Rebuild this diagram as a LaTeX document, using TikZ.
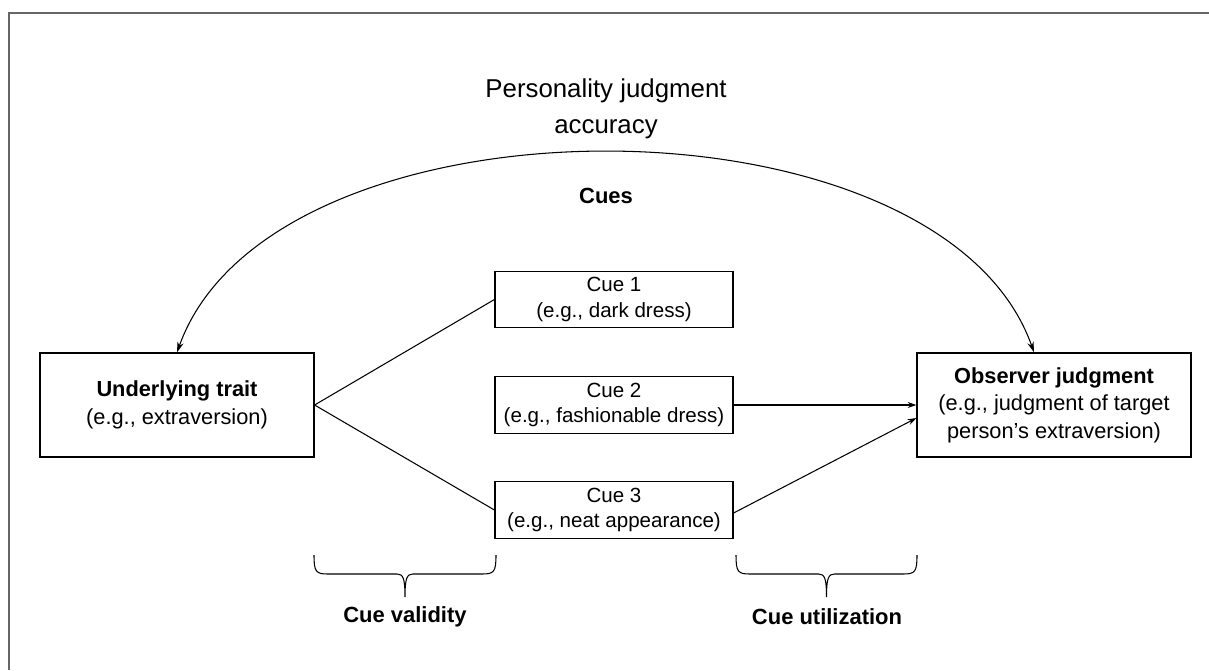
\documentclass[tikz,border=0pt]{standalone}
\usepackage{fontspec}
\setmainfont{Liberation Sans}
\usetikzlibrary{arrows.meta,calc}
\def\cuebrace(#1:#2:#3){\draw[line width=0.6pt] (#1, #3) .. controls (#1, {#3+17}) and ({#1+2}, {#3+19}) .. ({#1+14}, {#3+19}) -- ({(#1+#2)/2-8}, {#3+19}) .. controls ({(#1+#2)/2-2}, {#3+19}) and ({(#1+#2)/2}, {#3+23}) .. ({(#1+#2)/2}, {#3+42}) .. controls ({(#1+#2)/2}, {#3+23}) and ({(#1+#2)/2+2}, {#3+19}) .. ({(#1+#2)/2+8}, {#3+19}) -- ({#2-14}, {#3+19}) .. controls ({#2-2}, {#3+19}) and (#2, {#3+17}) .. (#2, #3);}

\begin{document}
\begin{tikzpicture}[x=0.02cm, y=-0.02cm,
		box/.style={draw, line width=0.7pt, align=center, inner sep=0pt, font=\fontsize{12.4}{15.6}\selectfont},
		endbox/.style={box, minimum width=5.48cm, minimum height=2.08cm},
		cuebox/.style={box, minimum width=4.76cm, minimum height=1.13cm, font=\fontsize{11.7}{14.6}\selectfont},
		link/.style={line width=0.6pt},
		tip/.style={-{Stealth[length=5pt,width=3.4pt]}},
		lbl/.style={font=\fontsize{12.5}{15.6}\selectfont\bfseries}]
			%%%%% START %%%%%
			
			\useasboundingbox (0, 0) rectangle (1209, 670);
			\draw[line width=1.1pt, color=black!60] (9, 670) -- (9, 13) -- (1209, 13);
			
			\node[align=center, font=\fontsize{14.7}{20.4}\selectfont] (title) at (606, 109) {Personality judgment\\accuracy};
			\node[lbl] (cues) at (606, 196) {Cues};
			
			\node[endbox] (trait) at (177, 405) {\textbf{Underlying trait}\\(e.g., extraversion)};
			\node[endbox] (judg) at (1054, 405) {\textbf{Observer judgment}\\(e.g., judgment of target\\person’s extraversion)};
			
			\node[cuebox] (cue1) at (614, 299.5) {Cue 1\\(e.g., dark dress)};
			\node[cuebox] (cue2) at (614, 405) {Cue 2\\(e.g., fashionable dress)};
			\node[cuebox] (cue3) at (614, 510) {Cue 3\\(e.g., neat appearance)};
			
			\coordinate (arcend) at ($(judg.north)+(-20, 0)$);
			\draw[link, {Stealth[length=6pt,width=3.6pt]}-{Stealth[length=6pt,width=3.6pt]}] (trait.north) .. controls (272, 86) and (940, 86) .. (arcend);
			
			\draw[link] (trait.east) -- (cue1.west);
			\draw[link] (trait.east) -- (cue3.west);
			\draw[link, tip] (cue2.east) -- (judg.west);
			\coordinate (judgin) at ($(judg.west)+(0, 13)$);
			\draw[link, tip] ($(cue3.east)+(0, 3)$) -- (judgin);
			
			\cuebrace(314:496:555)
			\cuebrace(736:917:555)
			\node[lbl] (valid) at (405, 617) {Cue validity};
			\node[lbl] (util) at (827, 617) {Cue utilization};
			
			%%%%% END %%%%%
		\end{tikzpicture}
\end{document}
